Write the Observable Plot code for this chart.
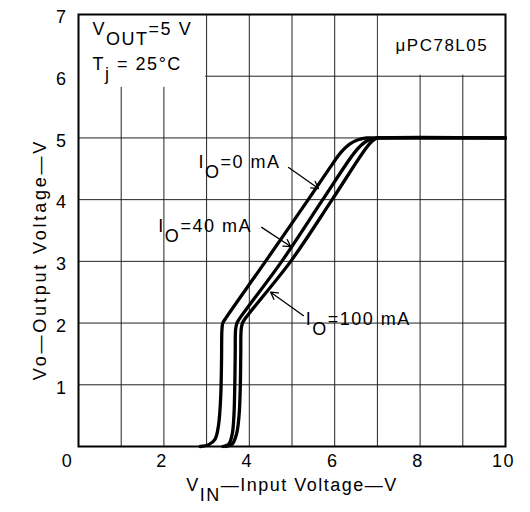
<!DOCTYPE html>
<html><head><meta charset="utf-8">
<script src="https://cdn.jsdelivr.net/npm/d3@7"></script>
<script src="https://cdn.jsdelivr.net/npm/@observablehq/plot@0.6"></script>
<style>
body{margin:0;background:#fff;}
#chart svg{font-family:"Liberation Sans",Arial,sans-serif;}
</style>
</head><body><div id="chart"></div>
<script>
// Axis ticks and grid
const xTickLabels = [2, 4, 6, 8, 10];
const xZeroLabel = [0];
const yTickLabels = [1, 2, 3, 4, 5, 6, 7];
const gridX = [1, 2, 3, 4, 5, 6, 7, 8, 9];
const gridY = [1, 2, 3, 4, 5, 6];

// Curves: VIN (x) and VO (y)
const vin0   = [2.85, 3.05, 3.2, 3.28, 3.33, 3.35, 3.36, 3.38, 3.45, 4.38, 5.38, 5.95, 6.15, 6.35, 6.55, 6.75, 7.0, 10];
const vo0    = [0,    0.03, 0.12, 0.35, 0.8, 1.4,  1.9,  2.0,  2.08, 3.0,  4.0,  4.58, 4.77, 4.9, 4.97, 5.0, 5.0, 5.0];
const vin40  = [3.38, 3.52, 3.6, 3.64, 3.66, 3.67, 3.68, 3.71, 3.78, 4.76, 5.72, 6.45, 6.65, 6.85, 7.05, 10];
const vo40   = [0,    0.04, 0.2, 0.5,  1.0,  1.5,  1.9,  2.0,  2.08, 3.0,  4.0, 4.75, 4.9, 4.98, 5.0, 5.0];
const vin100 = [3.45, 3.6, 3.7, 3.76, 3.79, 3.8, 3.81, 3.84, 3.9, 4.97, 5.94, 6.72, 6.88, 7.0, 7.1, 10];
const vo100  = [0,    0.04, 0.2, 0.5, 1.0, 1.5, 1.9, 2.0, 2.07, 3.0, 4.0, 4.82, 4.95, 5.0, 5.0, 5.0];

// Annotations
const annText = ["I_{O}=0 mA", "I_{O}=40 mA", "I_{O}=100 mA"];
const annX = [2.81, 1.87, 5.32];
const annY = [4.60, 3.57, 2.06];
const arrX1 = [4.92, 4.29, 5.27];
const arrY1 = [4.52, 3.55, 2.12];
const arrX2 = [5.62, 4.97, 4.50];
const arrY2 = [4.18, 3.24, 2.50];

const condText = ["V_{OUT}=5 V", "T_{j} = 25°C"];
const condX = [0.33, 0.33];
const condY = [6.76, 6.2];
const partText = ["μPC78L05"];
const partX = [8.51];
const partY = [6.5];

const xTitle = "V_{IN}—Input Voltage—V";
const yTitle = "Vo—Output Voltage—V";

const curves = [
  ...vin0.map((v, i) => ({vin: v, vo: vo0[i], s: "0"})),
  ...vin40.map((v, i) => ({vin: v, vo: vo40[i], s: "40"})),
  ...vin100.map((v, i) => ({vin: v, vo: vo100[i], s: "100"}))
];
const ann = annText.map((t, i) => ({t, x: annX[i], y: annY[i], x1: arrX1[i], y1: arrY1[i], x2: arrX2[i], y2: arrY2[i]}));
const cond = condText.map((t, i) => ({t, x: condX[i], y: condY[i]}));
const part = partText.map((t, i) => ({t, x: partX[i], y: partY[i]}));

const fs = 18;
const plot = Plot.plot({
  width: 530,
  height: 512,
  marginLeft: 78,
  marginRight: 25,
  marginTop: 14,
  marginBottom: 66,
  style: {fontFamily: '"Liberation Sans", Arial, sans-serif', fontSize: fs + "px", background: "#fff", color: "#000"},
  x: {domain: [0, 10]},
  y: {domain: [0, 7]},
  marks: [
    Plot.ruleX(gridX, {stroke: "#222", strokeWidth: 1}),
    Plot.ruleY(gridY, {stroke: "#222", strokeWidth: 1}),
    Plot.rect([{x1: 0, x2: 3, y1: 5.82, y2: 7}], {x1: "x1", x2: "x2", y1: "y1", y2: "y2", fill: "#fff", insetRight: 1}),
    Plot.rect([{x1: 7, x2: 10, y1: 6, y2: 7}], {x1: "x1", x2: "x2", y1: "y1", y2: "y2", fill: "#fff", insetLeft: 1, insetBottom: 1}),
    Plot.line(curves, {x: "vin", y: "vo", z: "s", stroke: "#000", strokeWidth: 3.3, curve: "catmull-rom", strokeLinejoin: "round"}),
    Plot.arrow(ann, {x1: "x1", y1: "y1", x2: "x2", y2: "y2", stroke: "#000", strokeWidth: 1.3, headLength: 9, bend: 0}),
    Plot.text(ann, {x: "x", y: "y", text: "t", textAnchor: "start", lineAnchor: "middle", fontSize: fs, fill: "#000"}),
    Plot.text(cond, {x: "x", y: "y", text: "t", textAnchor: "start", lineAnchor: "middle", fontSize: fs, fill: "#000"}),
    Plot.text(part, {x: "x", y: "y", text: "t", textAnchor: "middle", lineAnchor: "middle", fontSize: 17, fill: "#000"}),
    Plot.frame({stroke: "#000", strokeWidth: 2}),
    Plot.axisX(xTickLabels, {tickSize: 0, tickPadding: 8, fontSize: fs, dx: -2, label: null, tickFormat: d => String(d)}),
    Plot.axisX(xZeroLabel, {tickSize: 0, tickPadding: 8, fontSize: fs, dx: -11, label: null, tickFormat: d => String(d)}),
    Plot.axisY(yTickLabels, {tickSize: 0, tickPadding: 11, fontSize: fs, dy: 3, label: null, tickFormat: d => String(d)}),
    Plot.text([xTitle], {frameAnchor: "bottom", dy: 39, lineAnchor: "middle", textAnchor: "middle", fontSize: fs, fill: "#000"}),
    Plot.text([yTitle], {frameAnchor: "left", dx: -38, dy: 29, rotate: -90, lineAnchor: "middle", textAnchor: "middle", fontSize: fs, fill: "#000"})
  ]
});

// Render subscripts "_{...}" as lowered tspans (same size, as in the reference)
d3.select(plot).selectAll("text").each(function () {
  const el = this;
  const s = el.textContent;
  if (!s.includes("_{")) return;
  const parts = s.split(/_\{([^}]*)\}/);
  el.textContent = "";
  let lowered = false;
  parts.forEach((p, i) => {
    if (!p) { return; }
    const ts = document.createElementNS("http://www.w3.org/2000/svg", "tspan");
    ts.textContent = p;
    const isSub = i % 2 === 1;
    if (isSub && !lowered) { ts.setAttribute("dy", "0.55em"); lowered = true; }
    else if (!isSub && lowered) { ts.setAttribute("dy", "-0.55em"); lowered = false; }
    el.appendChild(ts);
  });
});
d3.select(plot).selectAll("text").style("letter-spacing", "1.5px");
d3.select(plot).selectAll("text").filter(function () { return this.textContent === yTitle; }).style("letter-spacing", "2.8px");

document.getElementById("chart").appendChild(plot);
</script>
</body></html>
